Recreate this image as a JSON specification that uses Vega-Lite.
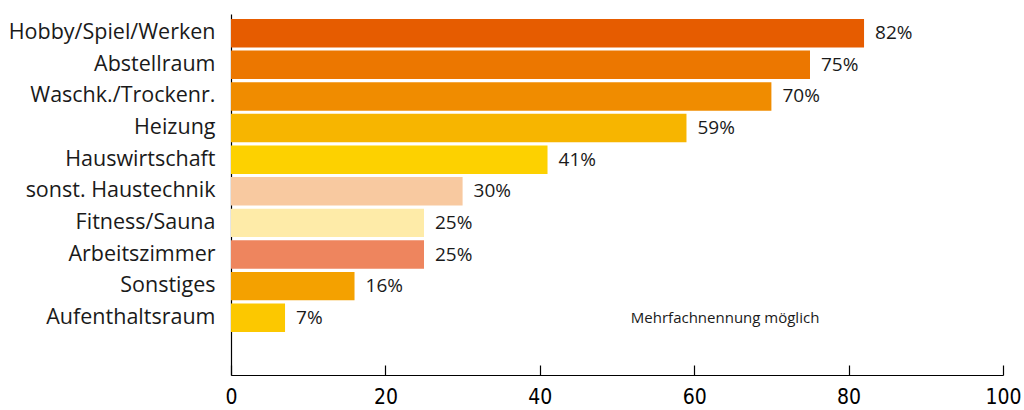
{
  "$schema": "https://vega.github.io/schema/vega-lite/v6.json",
  "width": 772,
  "height": 361,
  "autosize": {"type": "none"},
  "padding": {"left": 231, "top": 14, "right": 21, "bottom": 35},
  "background": "white",
  "config": {"view": {"stroke": null}, "font": "Open Sans"},
  "data": {
    "values": [
      {"cat": "Hobby/Spiel/Werken", "value": 82, "label": "82%", "color": "#E65C00"},
      {"cat": "Abstellraum", "value": 75, "label": "75%", "color": "#EC7700"},
      {"cat": "Waschk./Trockenr.", "value": 70, "label": "70%", "color": "#F08C00"},
      {"cat": "Heizung", "value": 59, "label": "59%", "color": "#F7B500"},
      {"cat": "Hauswirtschaft", "value": 41, "label": "41%", "color": "#FDD100"},
      {"cat": "sonst. Haustechnik", "value": 30, "label": "30%", "color": "#F8C9A0"},
      {"cat": "Fitness/Sauna", "value": 25, "label": "25%", "color": "#FEEBA8"},
      {"cat": "Arbeitszimmer", "value": 25, "label": "25%", "color": "#EE855E"},
      {"cat": "Sonstiges", "value": 16, "label": "16%", "color": "#F4A100"},
      {"cat": "Aufenthaltsraum", "value": 7, "label": "7%", "color": "#FCC800"}
    ]
  },
  "encoding": {
    "y": {
      "field": "cat", "type": "nominal", "sort": null,
      "scale": {"paddingInner": 0.1, "paddingOuter": 0.76, "align": 0.104},
      "axis": {"title": null, "ticks": false, "domainColor": "#000", "domainWidth": 1.2, "labelFontSize": 21.5, "labelColor": "#1a1a1a", "labelPadding": 16, "labelFont": "Open Sans", "labelLimit": 300}
    }
  },
  "resolve": {"axis": {"x": "independent"}},
  "layer": [
    {
      "mark": {"type": "bar"},
      "encoding": {
        "x": {
          "field": "value", "type": "quantitative",
          "scale": {"domain": [0, 100], "nice": false},
          "axis": {"orient": "bottom", "title": null, "grid": false, "values": [0, 20, 40, 60, 80, 100], "domainColor": "#000", "domainWidth": 1.2, "ticks": false, "labelFont": "'DejaVu Sans Condensed', 'Liberation Sans Narrow', Roboto", "labelFontSize": 21, "labelColor": "#000", "labelPadding": 11, "labelFlush": false}
        },
        "color": {"field": "color", "type": "nominal", "scale": null, "legend": null}
      }
    },
    {
      "mark": {"type": "text", "align": "left", "dx": 11, "fontSize": 19, "color": "#1a1a1a", "font": "Open Sans", "fontWeight": "normal"},
      "encoding": {
        "x": {"field": "value", "type": "quantitative",
          "axis": {"orient": "bottom", "title": null, "grid": false, "values": [0, 20, 40, 60, 80, 100], "domain": false, "labels": false, "ticks": true, "tickSize": 10, "tickColor": "#000", "tickWidth": 1.2, "offset": -10}
        },
        "text": {"field": "label"}
      }
    },
    {
      "data": {"values": [{"note": "Mehrfachnennung möglich"}]},
      "mark": {"type": "text", "align": "center", "fontSize": 15, "color": "#1a1a1a", "font": "Open Sans", "fontWeight": "normal"},
      "encoding": {
        "x": {"datum": 64, "axis": null},
        "y": {"datum": "Aufenthaltsraum"},
        "text": {"field": "note"}
      }
    }
  ]
}
